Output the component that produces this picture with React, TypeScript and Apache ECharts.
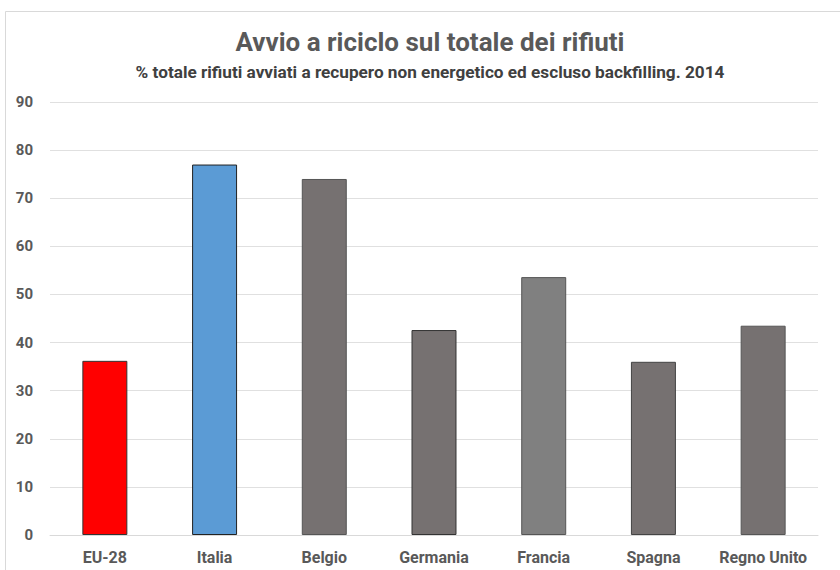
import React, { useEffect, useRef } from "react";
import * as echarts from "echarts";

const categories = ["EU-28", "Italia", "Belgio", "Germania", "Francia", "Spagna", "Regno Unito"];
const values = [36.2, 77.0, 74.0, 42.6, 53.6, 36.0, 43.5];
const barColors = ["#FF0000", "#5B9BD5", "#767171", "#767171", "#808080", "#767171", "#767171"];
const borderColors = ["#333333", "#222222", "#555555", "#333333", "#555555", "#444444", "#555555"];

const FONT = "Roboto, 'Noto Sans', sans-serif";

export default function App() {
  const ref = useRef<HTMLDivElement>(null);
  useEffect(() => {
    if (!ref.current) return;
    const chart = echarts.init(ref.current, null, { renderer: "svg" });
    chart.setOption({
      animation: false,
      backgroundColor: "#ffffff",
      graphic: [
        {
          type: "rect",
          shape: { x: 5.5, y: 11.5, width: 845, height: 570 },
          style: { fill: "none", stroke: "#d9d9d9", lineWidth: 1 },
          silent: true,
        },
      ],
      title: [
        {
          text: "Avvio a riciclo sul totale dei rifiuti",
          left: 430,
          textAlign: "center",
          top: 29,
          padding: 0,
          textStyle: { fontFamily: FONT, fontSize: 26, fontWeight: "bold", color: "#595959", lineHeight: 26 },
        },
        {
          text: "% totale rifiuti avviati a recupero non energetico ed escluso backfilling. 2014",
          left: 430,
          textAlign: "center",
          top: 63,
          padding: 0,
          textStyle: { fontFamily: FONT, fontSize: 17.2, fontWeight: "bold", color: "#404040", lineHeight: 18 },
        },
      ],
      grid: { left: 50, right: 22, top: 102, bottom: 35, containLabel: false },
      xAxis: {
        type: "category",
        data: categories,
        axisTick: { show: false },
        axisLine: { show: true, lineStyle: { color: "#d9d9d9", width: 1 } },
        axisLabel: {
          interval: 0,
          hideOverlap: false,
          fontFamily: FONT,
          fontSize: 16,
          fontWeight: "bold",
          color: "#595959",
          margin: 14,
        },
      },
      yAxis: {
        type: "value",
        min: 0,
        max: 90,
        interval: 10,
        axisLine: { show: false },
        axisTick: { show: false },
        splitLine: { lineStyle: { color: "#e0e0e0", width: 1 } },
        axisLabel: { fontFamily: FONT, fontSize: 15, fontWeight: "bold", color: "#595959", margin: 17 },
      },
      series: [
        {
          type: "bar",
          barWidth: "41%",
          data: values.map((v, i) => ({
            value: v,
            itemStyle: { color: barColors[i], borderColor: borderColors[i], borderWidth: 1 },
          })),
        },
      ],
    });
    return () => chart.dispose();
  }, []);
  return <div ref={ref} style={{ position: "fixed", left: 0, top: 0, width: 840, height: 570 }} />;
}
